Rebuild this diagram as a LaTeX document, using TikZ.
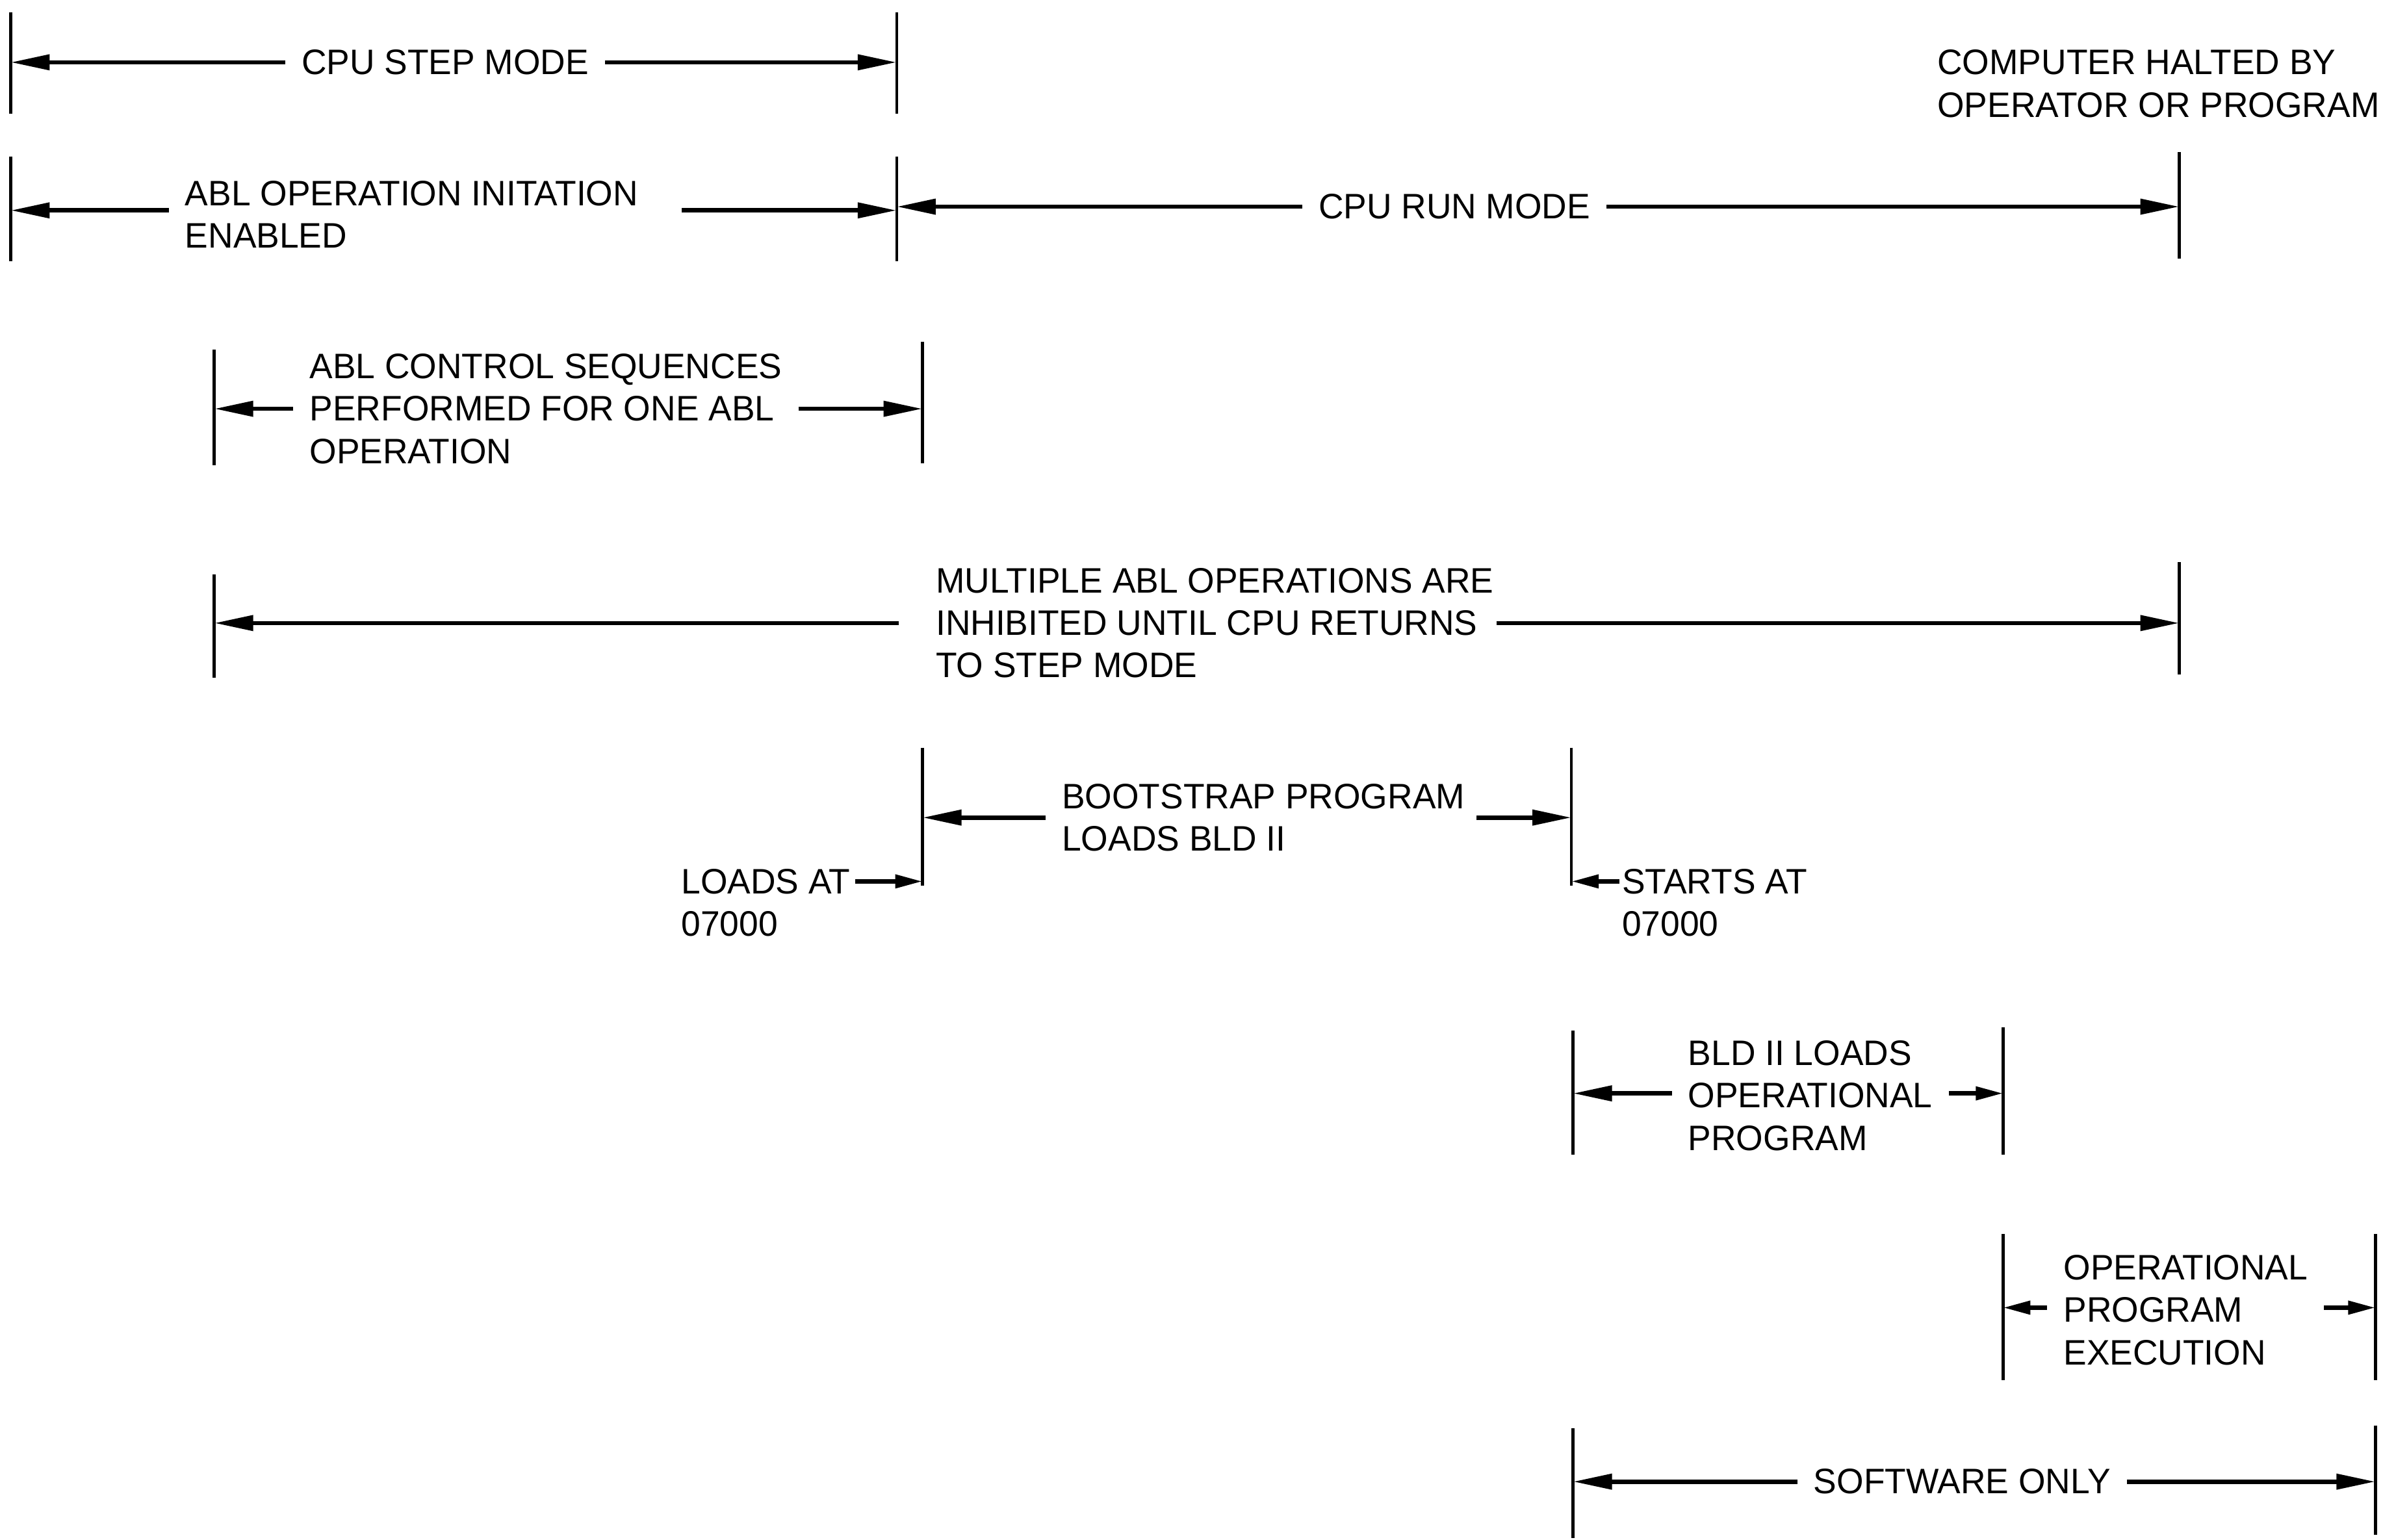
\documentclass[tikz,border=0pt]{standalone}
\usepackage{fontspec}
\setmainfont{Liberation Sans}[FakeStretch=0.98]
\usetikzlibrary{arrows.meta}
\tikzset{
  lbl/.style={inner xsep=7, inner ysep=0pt, align=left, font=\fontsize{15.5}{18.6}\selectfont},
  dim/.style={line width=1.9pt, -{Triangle[length=0.6cm,width=0.23cm]}},
  sdim/.style={line width=1.9pt, -{Triangle[length=0.42cm,width=0.2cm]}},
  tick/.style={line width=1.3pt},
}
\begin{document}
\begin{tikzpicture}[x=0.023386cm, y=-0.023386cm]
\useasboundingbox (0,0) rectangle (1568,1013);
% ticks
\coordinate (t1la) at (7,8);    \coordinate (t1lb) at (7,75);
\coordinate (t1ra) at (590,8);  \coordinate (t1rb) at (590,75);
\coordinate (t2la) at (7,103);  \coordinate (t2lb) at (7,172);
\coordinate (t2ma) at (590,103);\coordinate (t2mb) at (590,172);
\coordinate (t2ra) at (1434,100);\coordinate (t2rb) at (1434,170);
\coordinate (t3la) at (141,230);\coordinate (t3lb) at (141,306);
\coordinate (t3ra) at (607,225);\coordinate (t3rb) at (607,305);
\coordinate (t4la) at (141,378);\coordinate (t4lb) at (141,446);
\coordinate (t4ra) at (1434,370);\coordinate (t4rb) at (1434,444);
\coordinate (t5la) at (607,492);\coordinate (t5lb) at (607,583);
\coordinate (t5ra) at (1034,492);\coordinate (t5rb) at (1034,583);
\coordinate (t6la) at (1035,678);\coordinate (t6lb) at (1035,760);
\coordinate (t6ra) at (1318,676);\coordinate (t6rb) at (1318,760);
\coordinate (t7la) at (1318,812);\coordinate (t7lb) at (1318,908);
\coordinate (t7ra) at (1563,812);\coordinate (t7rb) at (1563,908);
\coordinate (t8la) at (1035,940);\coordinate (t8lb) at (1035,1012);
\coordinate (t8ra) at (1563,938);\coordinate (t8rb) at (1563,1010);
\foreach \p in {t1l,t1r,t2l,t2m,t2r,t3l,t3r,t4l,t4r,t5l,t5r,t6l,t6r,t7l,t7r,t8l,t8r}
  \draw[tick] (\p a) -- (\p b);

% labels
\node[lbl] (step) at (293,41) {CPU STEP MODE};
\node[lbl, anchor=west] (init) at (111,141) {ABL OPERATION INITATION\\ENABLED};
\node[lbl] (run) at (957,136) {CPU RUN MODE};
\node[lbl, anchor=west] (halt) at (1264,55) {COMPUTER HALTED BY\\OPERATOR OR PROGRAM};
\node[lbl, anchor=west] (ctrl) at (193,269) {ABL CONTROL SEQUENCES\\PERFORMED FOR ONE ABL\\OPERATION};
\node[lbl, anchor=west] (mult) at (605,410) {MULTIPLE ABL OPERATIONS ARE\\INHIBITED UNTIL CPU RETURNS\\TO STEP MODE};
\node[lbl, anchor=west] (boot) at (688,538) {BOOTSTRAP PROGRAM\\LOADS BLD II};
\node[lbl, anchor=west, inner xsep=0pt] (la1) at (448,580) {LOADS AT};
\node[lbl, anchor=west, inner xsep=0pt] (la2) at (448,608) {07000};
\node[lbl, anchor=west, inner xsep=0pt] (sa1) at (1067,580) {STARTS AT};
\node[lbl, anchor=west, inner xsep=0pt] (sa2) at (1067,608) {07000};
\node[lbl, anchor=west] (bld) at (1100,721) {BLD II LOADS\\OPERATIONAL\\PROGRAM};
\node[lbl, anchor=west] (exe) at (1347,862) {OPERATIONAL\\PROGRAM\\EXECUTION};
\node[lbl] (soft) at (1291,975) {SOFTWARE ONLY};

% dimension arrows
\draw[dim] (step.west) -- (step.west -| t1la);
\draw[dim] (step.east) -- (step.east -| t1ra);
\draw[dim] ([yshift=1.7pt]init.west) -- ([yshift=1.7pt]init.west -| t2la);
\draw[dim] ([xshift=12pt,yshift=1.7pt]init.east) -- ([yshift=1.7pt]init.east -| t2ma);
\draw[dim] (run.west) -- (run.west -| t2ma);
\draw[dim] (run.east) -- (run.east -| t2ra);
\draw[dim] (ctrl.west) -- (ctrl.west -| t3la);
\draw[dim] (ctrl.east) -- (ctrl.east -| t3ra);
\draw[dim] ([xshift=-9pt]mult.west) -- (mult.west -| t4la);
\draw[dim] ([xshift=-6pt]mult.east) -- (mult.east -| t4ra);
\draw[dim] (boot.west) -- (boot.west -| t5la);
\draw[dim] ([xshift=-2pt]boot.east) -- (boot.east -| t5ra);
\draw[sdim] ([xshift=2pt]la1.east) -- (la1.east -| t5lb);
\draw[sdim] ([xshift=-1pt]sa1.west) -- (sa1.west -| t5rb);
\draw[dim] ([yshift=1pt]bld.west) -- ([yshift=1pt]bld.west -| t6la);
\draw[sdim] ([yshift=1pt]bld.east) -- ([yshift=1pt]bld.east -| t6ra);
\draw[sdim] ([yshift=1pt]exe.west) -- ([yshift=1pt]exe.west -| t7la);
\draw[sdim] ([yshift=1pt]exe.east) -- ([yshift=1pt]exe.east -| t7ra);
\draw[dim] (soft.west) -- (soft.west -| t8la);
\draw[dim] (soft.east) -- (soft.east -| t8ra);
\end{tikzpicture}
\end{document}
